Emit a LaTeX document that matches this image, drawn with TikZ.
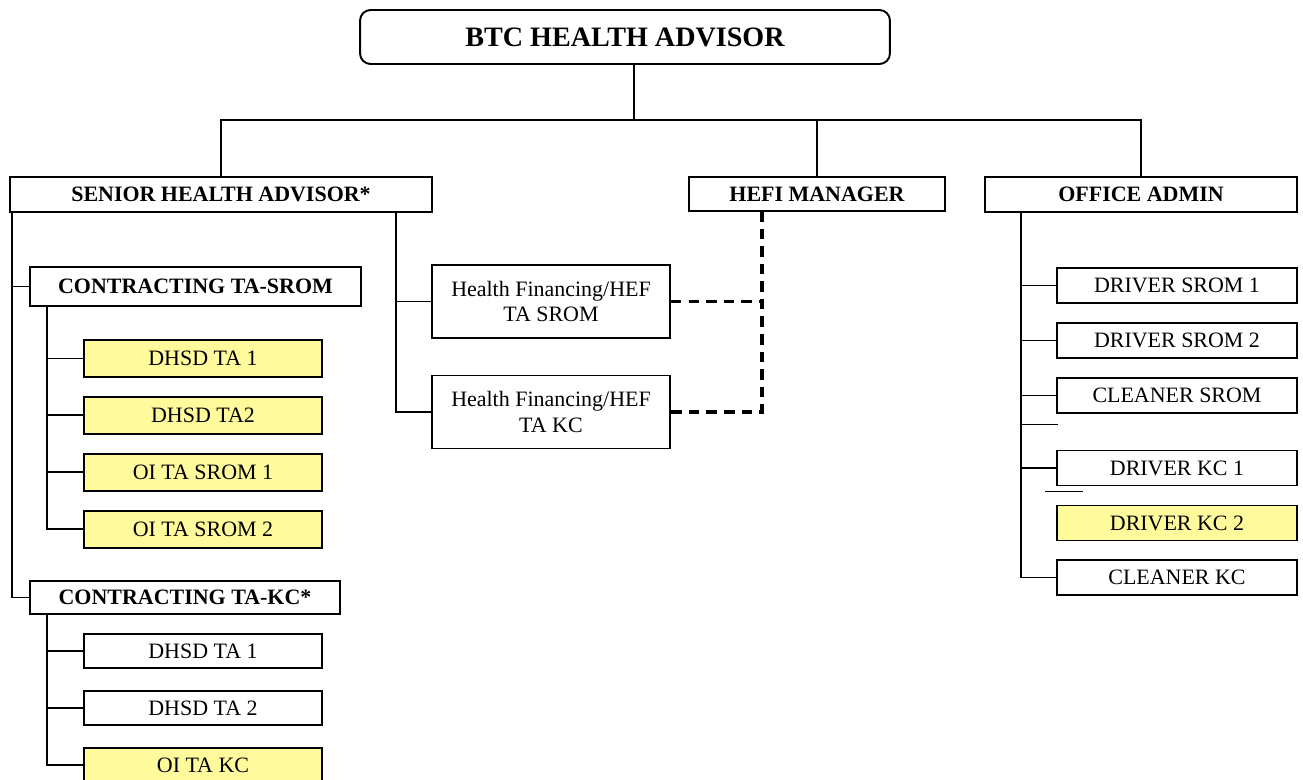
\documentclass[tikz,border=0pt]{standalone}
\usepackage{fontspec}
\setmainfont{Liberation Serif}
\usetikzlibrary{positioning}
\definecolor{hiyellow}{RGB}{255,250,155}

\begin{document}
\begin{tikzpicture}[
  x=0.02cm,y=-0.02cm,
  every node/.style={draw,line width=1.1pt,inner sep=0pt,align=center,
    font=\fontsize{12.5}{14.5}\selectfont},
  head/.style={font=\fontsize{12.5}{14.5}\selectfont\bfseries},
  post/.style={minimum width=4.76cm,minimum height=0.74cm},
  kcpost/.style={minimum width=4.76cm,minimum height=0.68cm},
  staff/.style={minimum width=4.8cm,minimum height=0.7cm},
  fin/.style={minimum width=4.76cm,minimum height=1.46cm},
  hl/.style={fill=hiyellow},
  link/.style={line width=1.1pt},
  dotlink/.style={line width=2.2pt,dash pattern=on 6pt off 4pt},
  node distance=0.36cm
]
  \useasboundingbox (0,0) rectangle (1303,780);

  % top level
  \node[rounded corners=6pt,minimum width=10.6cm,minimum height=1.08cm,
    font=\fontsize{16}{18}\selectfont\bfseries] (btc) at (625,37) {BTC HEALTH ADVISOR};

  \node[head,minimum width=8.44cm,minimum height=0.7cm] (sha) at (221,194.5) {SENIOR HEALTH ADVISOR*};
  \node[head,minimum width=5.12cm,minimum height=0.68cm] (hefi) at (817,194) {HEFI MANAGER};
  \node[head,minimum width=6.24cm,minimum height=0.7cm] (office) at (1141,194.5) {OFFICE ADMIN};

  \coordinate (bus) at (634,120);
  \draw[link] (bus |- btc.south) -- (bus);
  \draw[link] (sha.north) |- (office.north |- bus) -- (office.north);
  \draw[link] (hefi.north) -- (hefi.north |- bus);

  % contracting teams
  \node[head,minimum width=6.62cm,minimum height=0.78cm] (cts) at (195.5,286.5) {CONTRACTING TA-SROM};
  \node[post,hl] (sdA) at (203,358.5) {DHSD TA 1};
  \node[post,hl,below=of sdA] (sdB) {DHSD TA2};
  \node[post,hl,below=of sdB] (sdC) {OI TA SROM 1};
  \node[post,hl,below=of sdC] (sdD) {OI TA SROM 2};

  \node[head,minimum width=6.2cm,minimum height=0.66cm] (ctk) at (185,597.5) {CONTRACTING TA-KC*};
  \node[kcpost] (kdA) at (203,651) {DHSD TA 1};
  \node[kcpost,below=0.42cm of kdA] (kdB) {DHSD TA 2};
  \node[kcpost,hl,below=0.42cm of kdB] (kdC) {OI TA KC};

  \coordinate (spine) at (12,212);
  \draw[link] (spine) |- (ctk.west);
  \draw[link] (cts.west) -- (cts.west -| spine);

  \coordinate (sspine) at (47,306);
  \draw[link] (sspine) |- (sdD.west);
  \foreach \n in {sdA,sdB,sdC}
    \draw[link] (\n.west) -- (\n.west -| sspine);

  \coordinate (kspine) at (47,614);
  \draw[link] (kspine) |- (kdC.west);
  \foreach \n in {kdA,kdB}
    \draw[link] (\n.west) -- (\n.west -| kspine);

  % health financing
  \node[fin] (hfs) at (551,301.5) {Health Financing/HEF\\TA SROM};
  \node[fin] (hfk) at (551,412) {Health Financing/HEF\\TA KC};

  \coordinate (mspine) at (396,212);
  \draw[link] (mspine) |- (hfk.west);
  \draw[link] (hfs.west) -- (hfs.west -| mspine);

  \coordinate (dspine) at (762,211);
  \draw[dotlink] (dspine) |- (hfk.east);
  \draw[dotlink] (hfs.east) -- (hfs.east -| dspine);

  % office staff
  \node[staff] (ods1) at (1177,285.5) {DRIVER SROM 1};
  \node[staff] (ods2) at (1177,340.5) {DRIVER SROM 2};
  \node[staff] (ocs) at (1177,395.5) {CLEANER SROM};
  \node[staff] (odk1) at (1177,468) {DRIVER KC 1};
  \node[staff,hl] (odk2) at (1177,523) {DRIVER KC 2};
  \node[staff] (ock) at (1177,577.5) {CLEANER KC};

  \coordinate (ospine) at (1021,212);
  \draw[link] (ospine) |- (ock.west);
  \foreach \n in {ods1,ods2,ocs,odk1}
    \draw[link] (\n.west) -- (\n.west -| ospine);
  \draw[thin] (1021,424) -- (1058,424);
  \draw[thin] (1045,491) -- (1083,491);
\end{tikzpicture}
\end{document}
